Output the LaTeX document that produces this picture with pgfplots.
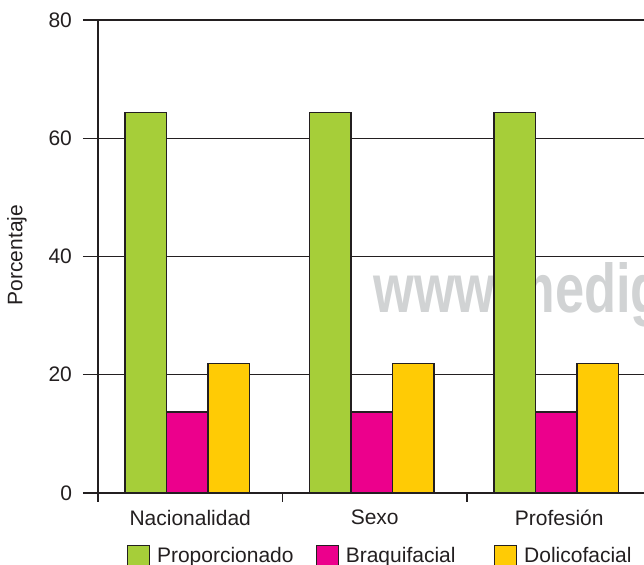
\documentclass[border=0pt]{standalone}
\usepackage{fontspec}
\setmainfont{Liberation Sans}
\usepackage{graphicx}
\usepackage{pgfplots}
\pgfplotsset{compat=1.18}

\definecolor{verde}{HTML}{A6CE39}
\definecolor{rosa}{HTML}{EC008C}
\definecolor{amarillo}{HTML}{FFCB05}
\definecolor{linea}{HTML}{231F20}
\definecolor{marca}{HTML}{D1D3D4}
\newcommand{\fs}{\fontsize{10.5}{12.6}\selectfont}

\begin{document}
\begin{tikzpicture}
% el grafico original esta recortado a la derecha y abajo
\useasboundingbox (-49pt,-36pt) rectangle (273pt,246.5pt);
% marca de agua, detras de las barras
\begin{scope}
\clip (-49pt,-36pt) rectangle (273pt,246.5pt);
\node[anchor=base west, inner sep=0pt, text=marca, font=\fontsize{34.5}{36}\selectfont\bfseries]
  at (137.5pt,90pt) {\scalebox{0.76}[1]{www.medigraphic.com}};
\end{scope}
\begin{axis}[
    scale only axis,
    width=276.75pt, height=236.5pt,
    xmin=0, xmax=3, ymin=0, ymax=80,
    axis x line*=bottom, axis y line*=left,
    axis line style={linea, line width=0.6pt},
    tick align=outside,
    major tick length=7.5pt,
    every tick/.style={linea, line width=0.6pt},
    ytick={0,20,40,60,80},
    ymajorgrids,
    grid style={linea, line width=0.6pt},
    xtick={0.5,1.5,2.5},
    xticklabels={Nacionalidad,Sexo,Profesión},
    xtick style={draw=none},
    extra x ticks={0,1,2,3},
    extra x tick labels={},
    extra x tick style={major tick length=4.5pt, xtick style={draw=linea}},
    /pgf/number format/assume math mode=true,
    tick label style={font=\fs, text=linea},
    yticklabel style={xshift=-2pt},
    xticklabel style={yshift=2.5pt},
    every axis y label/.style={at={(axis description cs:-0.1465,0.503)}, rotate=90, anchor=center, font=\fs, text=linea},
    ylabel={Porcentaje},
    legend columns=3,
    legend style={draw=none, fill=none, at={(0.0405,-0.1335)}, anchor=west, font=\fs, text=linea,
      /tikz/every odd column/.append style={column sep=1.5pt}},
    legend image code/.code={\draw[#1] (0pt,-5.5pt) rectangle (11pt,5.5pt);},
    bar width=20.75pt,
]
\addplot[ybar, bar shift=-22.25pt, fill=verde, draw=linea, line width=0.6pt]
  coordinates {(0.5,64.4) (1.5,64.4) (2.5,64.4)};
\addlegendentry{\makebox[77.3pt][l]{Proporcionado}}
\addplot[ybar, bar shift=-1.5pt, fill=rosa, draw=linea, line width=0.6pt]
  coordinates {(0.5,13.7) (1.5,13.7) (2.5,13.7)};
\addlegendentry{\makebox[72.1pt][l]{Braquifacial}}
\addplot[ybar, bar shift=19.25pt, fill=amarillo, draw=linea, line width=0.6pt]
  coordinates {(0.5,21.9) (1.5,21.9) (2.5,21.9)};
\addlegendentry{Dolicofacial}
\end{axis}
\end{tikzpicture}
\end{document}
